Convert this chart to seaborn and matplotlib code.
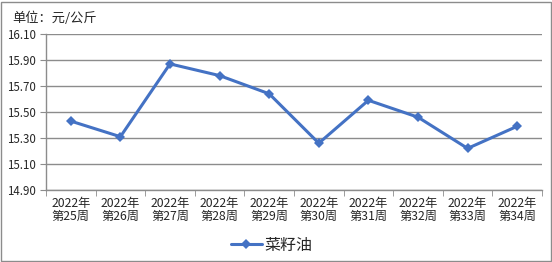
import matplotlib
matplotlib.use("Agg")
import matplotlib.pyplot as plt
import seaborn as sns
import pandas as pd
import numpy as np
from matplotlib.ticker import FixedLocator
from matplotlib.patches import Rectangle

weeks = ["2022年\n第25周", "2022年\n第26周", "2022年\n第27周", "2022年\n第28周", "2022年\n第29周",
         "2022年\n第30周", "2022年\n第31周", "2022年\n第32周", "2022年\n第33周", "2022年\n第34周"]
prices = [15.43, 15.31, 15.87, 15.78, 15.64, 15.26, 15.59, 15.46, 15.22, 15.39]
y_ticks = [14.90, 15.10, 15.30, 15.50, 15.70, 15.90, 16.10]
series_name = "菜籽油"
unit_label = "单位：元/公斤"

sns.set_style("white")
plt.rcParams['font.family'] = ['Noto Sans CJK SC', 'DejaVu Sans']

df = pd.DataFrame({"week": weeks, "price": prices, "series": series_name})

fig = plt.figure(figsize=(5.52, 2.62), dpi=100)
ax = fig.add_axes([46/552, 1-190/262, 496/552, 156/262])

sns.lineplot(data=df, x="week", y="price", hue="series", palette=["#4472C4"],
             marker="D", markersize=5.5, markeredgewidth=0, linewidth=2.2,
             sort=False, ax=ax)

ax.set_ylim(y_ticks[0], y_ticks[-1])
ax.yaxis.set_major_locator(FixedLocator(y_ticks))
ax.yaxis.set_major_formatter(matplotlib.ticker.FormatStrFormatter("%.2f"))
ax.set_xlim(-0.5, len(weeks) - 0.5)
ax.set_xlabel("")
ax.set_ylabel("")

grid_c = "#8c8c8c"
ax.grid(axis="y", color=grid_c, linewidth=1.0)
ax.set_axisbelow(True)
for s in ["top", "right"]:
    ax.spines[s].set_visible(False)
for s in ["left", "bottom"]:
    ax.spines[s].set_color(grid_c)
    ax.spines[s].set_linewidth(1.0)

ax.tick_params(axis="y", which="major", direction="out", length=4, color=grid_c,
               labelsize=8.3, pad=3, left=True)
ax.tick_params(axis="x", which="major", length=0, labelsize=8.8, pad=5)
ax.xaxis.set_minor_locator(FixedLocator(np.arange(-0.5, len(weeks), 1.0)))
ax.tick_params(axis="x", which="minor", direction="out", length=4, color=grid_c, bottom=True)
for lab in ax.get_xticklabels():
    lab.set_linespacing(1.0)

ax.legend(loc="center", bbox_to_anchor=(0.455, (245-190)/-156), frameon=False,
          fontsize=11.5, handlelength=2.0, handletextpad=0.15, borderaxespad=0)

fig.text(12/552, 1-18/262, unit_label, fontsize=9.5, va="center", ha="left")

fig.patches.append(Rectangle((1/552, 1/262), 1-2.5/552, 1-2.5/262, transform=fig.transFigure,
                             fill=False, edgecolor="#8c8c8c", linewidth=1.0))

fig.savefig("out.png", dpi=100)
